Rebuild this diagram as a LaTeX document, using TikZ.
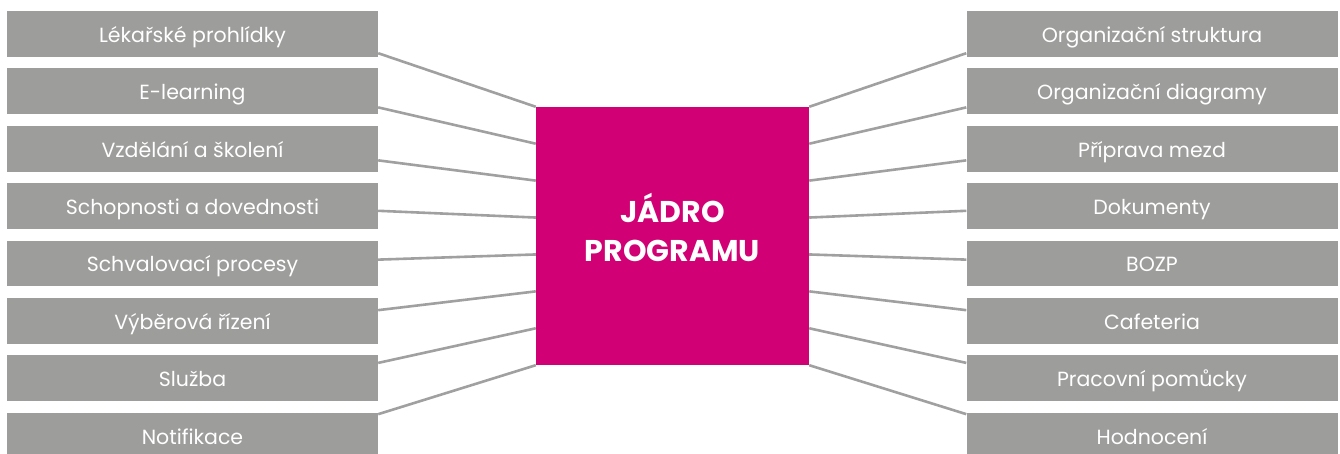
\documentclass[tikz,border=0pt]{standalone}
\usepackage{fontspec}
\setmainfont{Poppins}
\usetikzlibrary{calc}
\definecolor{boxgray}{HTML}{9D9D9C}
\definecolor{linegray}{HTML}{A0A0A0}
\definecolor{coremag}{HTML}{D10074}
\begin{document}
\begin{tikzpicture}[x=1pt,y=-1pt,
  itembox/.style={rectangle, fill=boxgray, minimum width=371pt, minimum height=45.7pt,
    inner sep=0pt, text=white, font=\fontsize{20.5}{20.5}\selectfont, text height=17pt, text depth=0pt},
  corebox/.style={rectangle, fill=coremag, minimum width=273pt, minimum height=258pt, inner sep=0pt},
  titletext/.style={text=white, align=center, font=\fontsize{30}{39}\selectfont\bfseries},
  link/.style={draw=linegray, line width=2.6pt}]
\useasboundingbox (0,0) rectangle (1340,454);

\node[corebox] (core) at (672.5,236) {};
\node[titletext, yshift=9pt] (title) at (core.center) {JÁDRO\\PROGRAMU};

\node[itembox] (L1) at (192.5,33.9) {Lékařské prohlídky};
\node[itembox] (L2) at (192.5,91.3) {E-learning};
\node[itembox] (L3) at (192.5,148.7) {Vzdělání a školení};
\node[itembox] (L4) at (192.5,206.1) {Schopnosti a dovednosti};
\node[itembox] (L5) at (192.5,263.5) {Schvalovací procesy};
\node[itembox] (L6) at (192.5,320.9) {Výběrová řízení};
\node[itembox] (L7) at (192.5,378.3) {Služba};
\node[itembox] (L8) at (192.5,435.7) {Notifikace};

\node[itembox] (R1) at (1152,33.9) {Organizační struktura};
\node[itembox] (R2) at (1152,91.3) {Organizační diagramy};
\node[itembox] (R3) at (1152,148.7) {Příprava mezd};
\node[itembox] (R4) at (1152,206.1) {Dokumenty};
\node[itembox] (R5) at (1152,263.5) {BOZP};
\node[itembox] (R6) at (1152,320.9) {Cafeteria};
\node[itembox] (R7) at (1152,378.3) {Pracovní pomůcky};
\node[itembox] (R8) at (1152,435.7) {Hodnocení};

\foreach \i/\t in {1/0.919, 2/0.849, 3/0.753, 4/0.602, 5/0.416, 6/0.267, 7/0.166, 8/0.033} {
  \pgfmathsetmacro\s{(\i-1)/7}
  \draw[link] ($(L\i.north east)!\t!(L\i.south east)$) -- ($(core.north west)!\s!(core.south west)$);
  \draw[link] ($(R\i.north west)!\t!(R\i.south west)$) -- ($(core.north east)!\s!(core.south east)$);
}
\end{tikzpicture}
\end{document}
